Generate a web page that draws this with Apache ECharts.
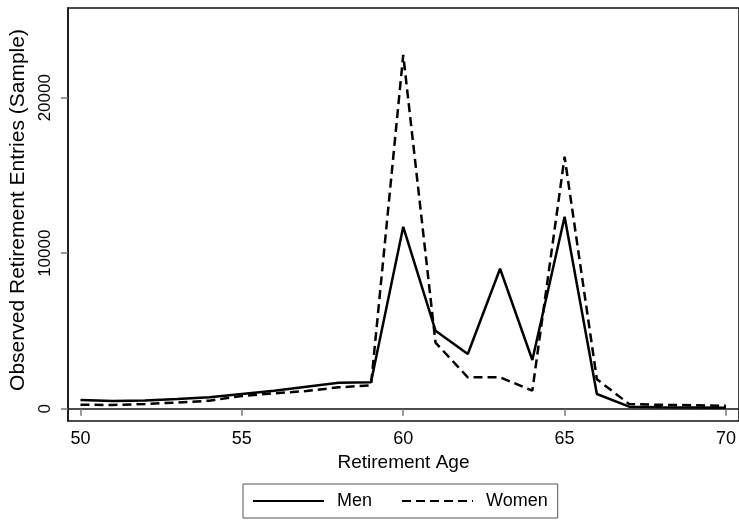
<!DOCTYPE html>
<html>
<head>
<meta charset="utf-8">
<script src="https://cdn.jsdelivr.net/npm/echarts@6/dist/echarts.min.js"></script>
<style>
html,body{margin:0;padding:0;background:#fff;}
#chart{width:739px;height:521px;}
</style>
</head>
<body>
<div id="chart"></div>
<script>
var ages = [50,51,52,53,54,55,56,57,58,59,60,61,62,63,64,65,66,67,68,69,70];
var men = [560,495,530,630,733,945,1160,1415,1670,1700,11700,5015,3520,9000,3130,12350,945,130,100,80,65];
var women = [257,240,300,400,515,817,990,1140,1375,1500,22750,4250,2020,2020,1160,16200,1890,300,250,220,190];
var xTicks = [50,55,60,65,70];
var yTicks = [0,10000,20000];

function pairs(vals){ return ages.map(function(a,i){ return [a, vals[i]]; }); }

var FONT = 'Liberation Sans';
var chart = echarts.init(document.getElementById('chart'), null, {renderer:'canvas'});
chart.setOption({
  animation:false,
  backgroundColor:'#fff',
  grid:{left:68, top:8, right:-1, height:413, show:true, borderColor:'#111', borderWidth:1.5, backgroundColor:'transparent'},
  xAxis:{
    type:'value', min:49.613, max:70.402,
    name:'Retirement Age', nameLocation:'middle', nameGap:29,
    nameTextStyle:{fontFamily:FONT, fontSize:19, color:'#000'},
    axisLine:{show:true, lineStyle:{color:'#111', width:1.5}},
    axisTick:{show:true, customValues:xTicks, length:7, lineStyle:{color:'#777', width:1.5}},
    axisLabel:{customValues:xTicks, fontFamily:FONT, fontSize:18, color:'#000', margin:9,
      formatter:function(v){ return String(v); }},
    splitLine:{show:false}
  },
  yAxis:{
    type:'value', min:-791, max:25768,
    name:'Observed Retirement Entries (Sample)', nameLocation:'middle', nameGap:23,
    nameTextStyle:{fontFamily:FONT, fontSize:21, color:'#000', padding:[0,0,0,9]},
    axisLine:{show:true, lineStyle:{color:'#111', width:1.5}},
    axisTick:{show:true, customValues:yTicks, length:7, lineStyle:{color:'#777', width:1.5}},
    axisLabel:{customValues:yTicks, rotate:90, fontFamily:FONT, fontSize:17, color:'#000', margin:14,
      formatter:function(v){ return String(v); }},
    splitLine:{show:false}
  },
  legend:{
    left:243, top:484,
    data:['Men','Women'],
    itemWidth:71, itemHeight:14, itemGap:29,
    padding:[8,10,8,9],
    borderColor:'#555', borderWidth:1,
    itemStyle:{color:'rgba(0,0,0,0)', borderWidth:0, opacity:0},
    textStyle:{fontFamily:FONT, fontSize:18, color:'#000', padding:[0,0,0,8]}
  },
  series:[
    {name:'Men', type:'line', data:pairs(men), symbol:'none', lineStyle:{color:'#000', width:2.5, type:'solid'}, itemStyle:{color:'#000'}},
    {name:'Women', type:'line', data:pairs(women), symbol:'none', lineStyle:{color:'#000', width:2.5, type:[9,5]}, itemStyle:{color:'#000'}}
  ]
});
</script>
</body>
</html>
